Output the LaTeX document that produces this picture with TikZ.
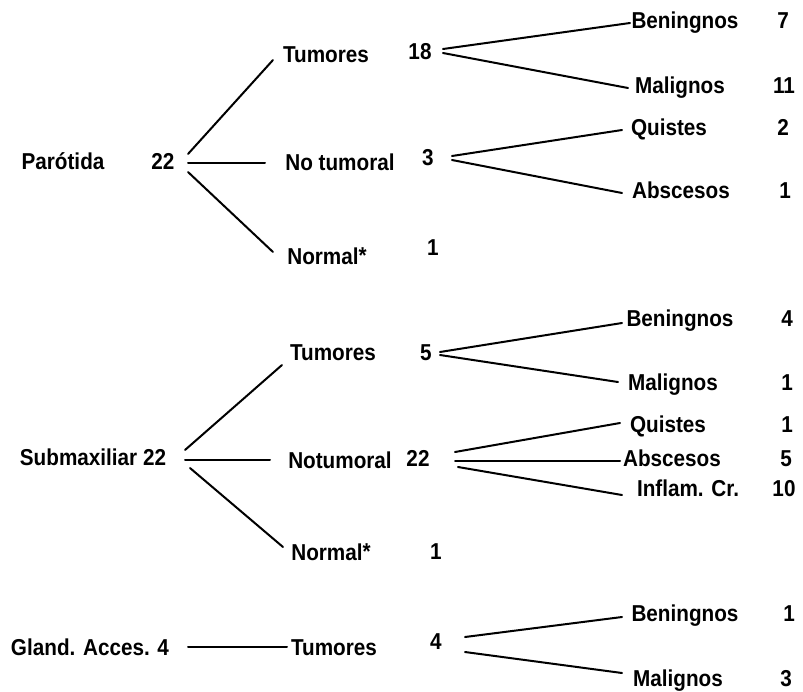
\documentclass[tikz,border=0pt]{standalone}
\usepackage{fontspec}
\setmainfont{Liberation Sans Bold}[FakeStretch=0.9]
\begin{document}
\begin{tikzpicture}[x=1pt,y=-1pt,
  lbl/.style={inner sep=0pt,font=\fontsize{23}{27}\selectfont,text height=16.5pt,text depth=0pt},
  conn/.style={line width=2pt,line cap=round}]
\useasboundingbox (0,0) rectangle (803,691);
% ---------- group 1 ----------
\node[lbl] (parotida) at (63,161) {Parótida};
\node[lbl] (p22) at (163,161) {22};
\node[lbl] (tum1) at (326,54) {Tumores};
\node[lbl] (notum1) at (340,162) {No tumoral};
\node[lbl] (norm1) at (327,256) {Normal\raisebox{1pt}{*}};
\node[lbl] (n18) at (420,51) {18};
\node[lbl] (n3) at (428,157) {3};
\node[lbl] (n1a) at (433,247) {1};
\node[lbl] (ben1) at (685,20) {Beningnos};
\node[lbl] (v7) at (783,20) {7};
\node[lbl] (mal1) at (680,85) {Malignos};
\node[lbl] (v11) at (784,85) {11};
\node[lbl] (qui1) at (669,127) {Quistes};
\node[lbl] (v2) at (783,127) {2};
\node[lbl] (abs1) at (681,190) {Abscesos};
\node[lbl] (v1a) at (785,190) {1};
\draw[conn] ([shift={(25,-7)}]p22.center) -- ([shift={(-53,6)}]tum1.center);
\draw[conn] ([shift={(25,2)}]p22.center) -- ([shift={(-75,1)}]notum1.center);
\draw[conn] ([shift={(25,11)}]p22.center) -- ([shift={(-54,-4)}]norm1.center);
\draw[conn] ([shift={(23,-2)}]n18.center) -- ([shift={(-55,3)}]ben1.center);
\draw[conn] ([shift={(23,2)}]n18.center) -- ([shift={(-52,3)}]mal1.center);
\draw[conn] ([shift={(24,-1)}]n3.center) -- ([shift={(-47,3)}]qui1.center);
\draw[conn] ([shift={(24,3)}]n3.center) -- ([shift={(-59,3)}]abs1.center);
% ---------- group 2 ----------
\node[lbl] (sub) at (93,457) {Submaxiliar 22};
\node[lbl] (tum2) at (333,352) {Tumores};
\node[lbl] (notum2) at (340,460) {Notumoral};
\node[lbl] (norm2) at (331,552) {Normal\raisebox{1pt}{*}};
\node[lbl] (n5) at (426,352) {5};
\node[lbl] (n22) at (418,458) {22};
\node[lbl] (n1b) at (436,551) {1};
\node[lbl] (ben2) at (680,318) {Beningnos};
\node[lbl] (v4) at (787,318) {4};
\node[lbl] (mal2) at (673,382) {Malignos};
\node[lbl] (v1b) at (787,382) {1};
\node[lbl] (qui2) at (668,424) {Quistes};
\node[lbl] (v1c) at (787,424) {1};
\node[lbl] (abs2) at (672,458) {Abscesos};
\node[lbl] (v5) at (786,458) {5};
\node[lbl] (inf2) at (688,488) {Inflam. Cr.};
\node[lbl] (v10) at (784,488) {10};
\draw[conn] ([shift={(92,-7)}]sub.center) -- ([shift={(-51,13)}]tum2.center);
\draw[conn] ([shift={(92,3)}]sub.center) -- ([shift={(-70,0)}]notum2.center);
\draw[conn] ([shift={(97,11)}]sub.center) -- ([shift={(-48,-5)}]norm2.center);
\draw[conn] ([shift={(14,0)}]n5.center) -- ([shift={(-58,5)}]ben2.center);
\draw[conn] ([shift={(14,3)}]n5.center) -- ([shift={(-55,0)}]mal2.center);
\draw[conn] ([shift={(37,-6)}]n22.center) -- ([shift={(-48,-1)}]qui2.center);
\draw[conn] ([shift={(37,3)}]n22.center) -- ([shift={(-52,3)}]abs2.center);
\draw[conn] ([shift={(40,9)}]n22.center) -- ([shift={(-66,7)}]inf2.center);
% ---------- group 3 ----------
\node[lbl] (gland) at (90,647) {Gland. Acces. 4};
\node[lbl] (tum3) at (334,647) {Tumores};
\node[lbl] (n4) at (436,641) {4};
\node[lbl] (ben3) at (685,613) {Beningnos};
\node[lbl] (v1d) at (789,613) {1};
\node[lbl] (mal3) at (678,678) {Malignos};
\node[lbl] (v3) at (786,678) {3};
\draw[conn] ([shift={(98,0)}]gland.center) -- ([shift={(-47,0)}]tum3.center);
\draw[conn] ([shift={(29,-4)}]n4.center) -- ([shift={(-63,4)}]ben3.center);
\draw[conn] ([shift={(29,11)}]n4.center) -- ([shift={(-56,-5)}]mal3.center);
\end{tikzpicture}
\end{document}
